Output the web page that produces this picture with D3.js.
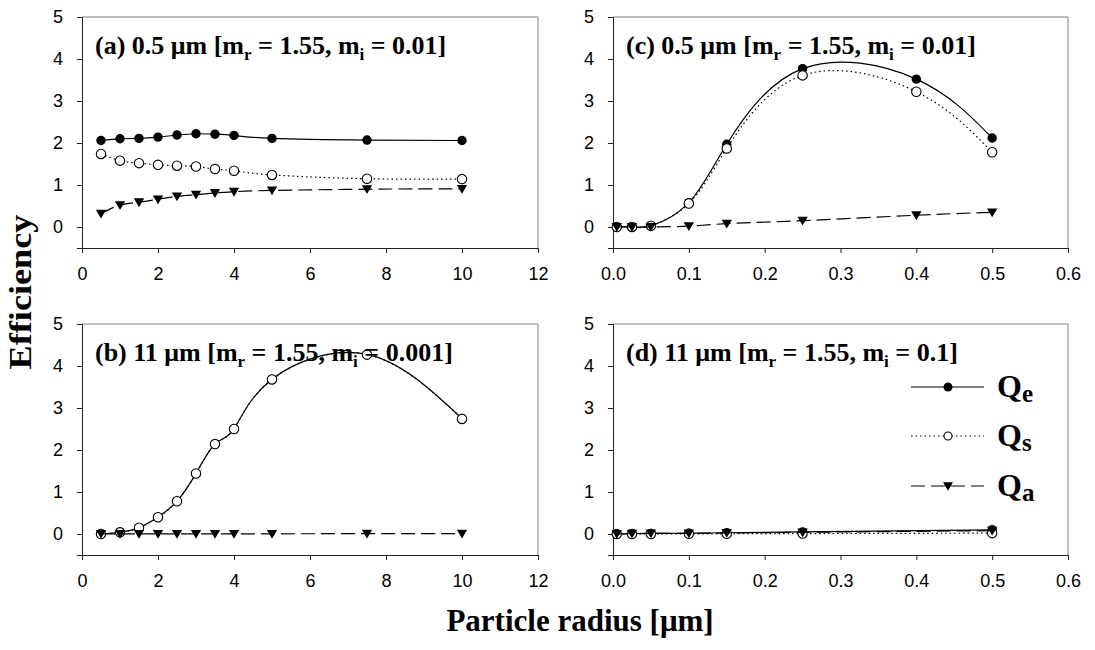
<!DOCTYPE html>
<html lang="en">
<head>
  <meta charset="utf-8">
  <title>Efficiency vs particle radius</title>
  <script src="https://d3js.org/d3.v7.min.js"></script>
</head>
<style>
  body { margin: 0; background: #fff; }
  text { fill: #000; }
</style>
<body>
<div id="chart"></div>
<script>
  // x values for the four panels
  var xAB = [0.5, 1, 1.5, 2, 2.5, 3, 3.5, 4, 5, 7.5, 10];
  var xC = [0.005, 0.025, 0.05, 0.1, 0.15, 0.25, 0.4, 0.5];
  var xD = [0.005, 0.025, 0.05, 0.1, 0.15, 0.25, 0.5];

  // (a) 0.5 um, mi = 0.01
  var qeA = [2.06, 2.10, 2.11, 2.14, 2.19, 2.22, 2.21, 2.18, 2.11, 2.07, 2.06];
  var qsA = [1.74, 1.58, 1.52, 1.48, 1.46, 1.44, 1.38, 1.34, 1.24, 1.15, 1.14];
  var qaA = [0.32, 0.52, 0.59, 0.66, 0.73, 0.77, 0.81, 0.84, 0.87, 0.90, 0.91];

  // (b) 11 um, mi = 0.001
  var qeB = [0.001, 0.041, 0.152, 0.402, 0.783, 1.443, 2.144, 2.504, 3.685, 4.278, 2.75];
  var qsB = [0.0, 0.04, 0.15, 0.40, 0.78, 1.44, 2.14, 2.50, 3.68, 4.27, 2.74];
  var qaB = [0.001, 0.001, 0.002, 0.002, 0.003, 0.003, 0.004, 0.004, 0.005, 0.008, 0.01];

  // (c) 0.5 um, mi = 0.01 (small radii)
  var qeC = [0.0, 0.002, 0.03, 0.58, 1.97, 3.77, 3.52, 2.12];
  var qsC = [0.0, 0.002, 0.03, 0.56, 1.87, 3.61, 3.22, 1.78];
  var qaC = [0.0, 0.0, 0.002, 0.02, 0.08, 0.15, 0.28, 0.35];

  // (d) 11 um, mi = 0.1
  var qeD = [0.0, 0.01, 0.015, 0.02, 0.03, 0.05, 0.1];
  var qsD = [0.0, 0.0, 0.001, 0.003, 0.005, 0.01, 0.02];
  var qaD = [0.0, 0.01, 0.014, 0.017, 0.025, 0.04, 0.08];

  var xTicksLeft = [0, 2, 4, 6, 8, 10, 12];
  var xTicksRight = [0, 0.1, 0.2, 0.3, 0.4, 0.5, 0.6];
  var yTicks = [0, 1, 2, 3, 4, 5];

  var titles = [
    ["(a) 0.5 \u03bcm [m", "r", " = 1.55, m", "i", " = 0.01]"],
    ["(b) 11 \u03bcm [m", "r", " = 1.55, m", "i", " = 0.001]"],
    ["(c) 0.5 \u03bcm [m", "r", " = 1.55, m", "i", " = 0.01]"],
    ["(d) 11 \u03bcm [m", "r", " = 1.55, m", "i", " = 0.1]"]
  ];
  var seriesNames = ["e", "s", "a"];

  var width = 1095, height = 650;
  var svg = d3.select("#chart").append("svg")
    .attr("width", width)
    .attr("height", height);

  var cols = [[82, 538], [613, 1068]];
  var rows = [[17, 248], [324, 555]];

  var panels = [
    { col: 0, row: 0, x: xAB, s: [qeA, qsA, qaA], dom: [0, 12], ticks: xTicksLeft, fmt: d3.format("d"), title: titles[0] },
    { col: 0, row: 1, x: xAB, s: [qeB, qsB, qaB], dom: [0, 12], ticks: xTicksLeft, fmt: d3.format("d"), title: titles[1] },
    { col: 1, row: 0, x: xC, s: [qeC, qsC, qaC], dom: [0, 0.6], ticks: xTicksRight, fmt: d3.format(".1f"), title: titles[2] },
    { col: 1, row: 1, x: xD, s: [qeD, qsD, qaD], dom: [0, 0.6], ticks: xTicksRight, fmt: d3.format(".1f"), title: titles[3], legend: true }
  ];

  // line style per series: Qe solid, Qs dotted, Qa dashed
  var dash = [null, "1.5,3", "14,6"];

  function drawMarker(g, k, cx, cy, r) {
    if (k == 0) {
      g.append("circle").attr("cx", cx).attr("cy", cy).attr("r", r)
        .attr("fill", "#000");
    } else if (k == 1) {
      g.append("circle").attr("cx", cx).attr("cy", cy).attr("r", r)
        .attr("fill", "#fff").attr("stroke", "#000").attr("stroke-width", 1.1);
    } else {
      var s = r * 1.1;
      g.append("path")
        .attr("d", "M" + (cx - s) + "," + (cy - s * 0.75) + "L" + (cx + s) + "," + (cy - s * 0.75) + "L" + cx + "," + (cy + s * 0.95) + "Z")
        .attr("fill", "#000");
    }
  }

  panels.forEach(function(p) {
    var x0 = cols[p.col][0], x1 = cols[p.col][1];
    var y0 = rows[p.row][0], y1 = rows[p.row][1];

    var x = d3.scaleLinear().domain(p.dom).range([x0, x1]);
    var y = d3.scaleLinear().domain([-0.5, 5]).range([y1, y0]);

    var g = svg.append("g");

    // frame: top and right in grey
    g.append("path")
      .attr("d", "M" + x0 + "," + y0 + "H" + x1 + "V" + y1)
      .attr("fill", "none").attr("stroke", "#808080").attr("stroke-width", 1);

    var xAxis = g.append("g")
      .attr("transform", "translate(0," + y1 + ")")
      .call(d3.axisBottom(x).tickValues(p.ticks).tickFormat(p.fmt).tickSize(5).tickPadding(14));
    var yAxis = g.append("g")
      .attr("transform", "translate(" + x0 + ",0)")
      .call(d3.axisLeft(y).tickValues(yTicks).tickFormat(d3.format("d")).tickSize(5).tickPadding(14));

    [xAxis, yAxis].forEach(function(a) {
      a.select(".domain").attr("stroke", "#222");
      a.selectAll(".tick line").attr("stroke", "#222");
      a.selectAll("text")
        .style("font-family", "'Liberation Sans', Arial, sans-serif")
        .style("font-size", "18px")
        .attr("fill", "#000");
    });

    // series
    p.s.forEach(function(vals, k) {
      var pts = p.x.map(function(v, i) { return [x(v), y(vals[i])]; });
      g.append("path")
        .attr("d", d3.line().curve(d3.curveNatural)(pts))
        .attr("fill", "none")
        .attr("stroke", "#000")
        .attr("stroke-width", 1.2)
        .attr("stroke-dasharray", dash[k]);
      pts.forEach(function(pt) { drawMarker(g, k, pt[0], pt[1], 4.7); });
    });

    // panel title
    var t = g.append("text")
      .attr("x", x0 + 13)
      .attr("y", y0 + 37)
      .style("font-family", "'Liberation Serif', 'Times New Roman', serif")
      .style("font-weight", "bold")
      .style("font-size", "26px");
    t.append("tspan").text(p.title[0]);
    t.append("tspan").attr("dy", 6).style("font-size", "17px").text(p.title[1]);
    t.append("tspan").attr("dy", -6).text(p.title[2]);
    t.append("tspan").attr("dy", 6).style("font-size", "17px").text(p.title[3]);
    t.append("tspan").attr("dy", -6).text(p.title[4]);

    if (p.legend) {
      var ly = [387, 436, 486];
      seriesNames.forEach(function(name, k) {
        g.append("line")
          .attr("x1", 911).attr("x2", 984)
          .attr("y1", ly[k]).attr("y2", ly[k])
          .attr("stroke", "#000").attr("stroke-width", 1.2)
          .attr("stroke-dasharray", dash[k]);
        drawMarker(g, k, 948, ly[k], k == 1 ? 4 : 4.5);
        var lt = g.append("text")
          .attr("x", 997).attr("y", ly[k] + 10)
          .style("font-family", "'Liberation Serif', 'Times New Roman', serif")
          .style("font-weight", "bold")
          .style("font-size", "32px");
        lt.append("tspan").text("Q");
        lt.append("tspan").attr("dy", 5).style("font-size", "25px").text(name);
      });
    }
  });

  // axis titles
  svg.append("text")
    .attr("transform", "translate(31,292) rotate(-90)")
    .attr("text-anchor", "middle")
    .attr("textLength", 155)
    .attr("lengthAdjust", "spacingAndGlyphs")
    .style("font-family", "'Liberation Serif', 'Times New Roman', serif")
    .style("font-weight", "bold")
    .style("font-size", "31px")
    .text("Efficiency");

  svg.append("text")
    .attr("x", 580)
    .attr("y", 631)
    .attr("text-anchor", "middle")
    .style("font-family", "'Liberation Serif', 'Times New Roman', serif")
    .style("font-weight", "bold")
    .style("font-size", "31px")
    .text("Particle radius [\u03bcm]");
</script>
</body>
</html>
